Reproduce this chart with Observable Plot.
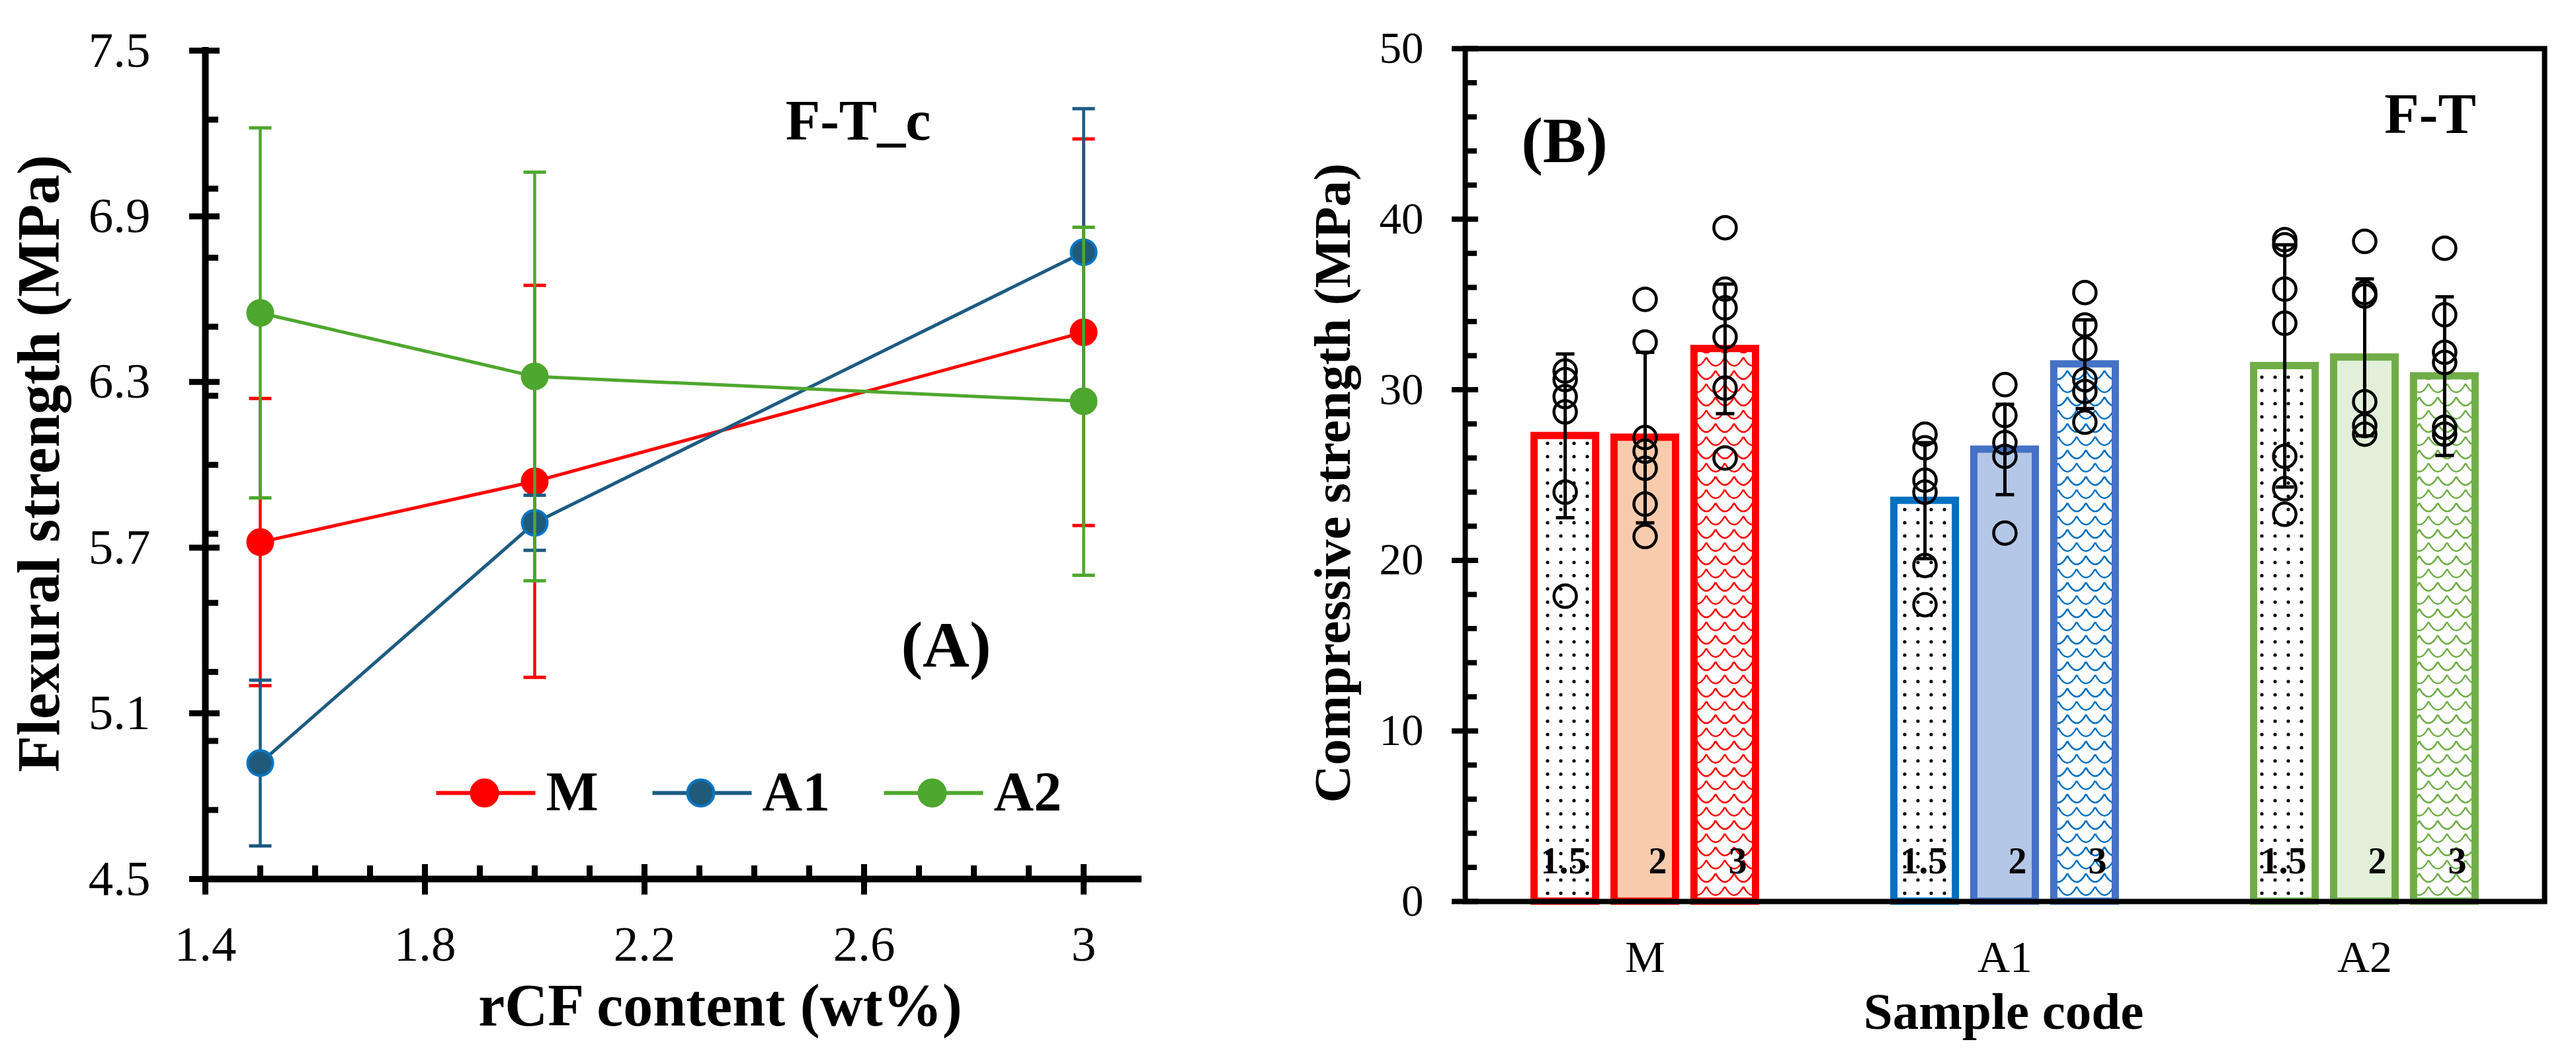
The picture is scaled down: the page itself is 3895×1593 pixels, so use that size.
<!DOCTYPE html>
<html>
<head>
<meta charset="utf-8">
<script src="https://cdn.jsdelivr.net/npm/d3@7"></script>
<script src="https://cdn.jsdelivr.net/npm/@observablehq/plot@0.6"></script>
<style>
  body { margin: 0; background: white; }
  #wrap { display: flex; width: 3895px; height: 1593px; }
  #wrap svg { flex: none; max-width: none; }
</style>
</head>
<body>
<div id="wrap"></div>
<script>
// (A) flexural strength against rCF content
const rcf = [1.5, 2, 3];
const seriesA = ["M", "A1", "A2"];
const flexM = [5.72, 5.94, 6.48];
const flexA1 = [4.92, 5.79, 6.77];
const flexA2 = [6.55, 6.32, 6.23];
const sdFlexM = [0.52, 0.71, 0.70];
const sdFlexA1 = [0.30, 0.10, 0.52];
const sdFlexA2 = [0.67, 0.74, 0.63];
const xTicksA = [1.4, 1.8, 2.2, 2.6, 3];
const xMinorA = [1.5, 1.6, 1.7, 1.9, 2.0, 2.1, 2.3, 2.4, 2.5, 2.7, 2.8, 2.9];
const yTicksA = [4.5, 5.1, 5.7, 6.3, 6.9, 7.5];
const yMinorA = [4.75, 5.0, 5.25, 5.5, 5.75, 6.0, 6.25, 6.5, 6.75, 7.0, 7.25];

// (B) compressive strength per sample code and rCF content
const samples = ["M", "A1", "A2"];
const contents = ["1.5", "2", "3"];
const compM = [27.3, 27.2, 32.4];
const compA1 = [23.5, 26.5, 31.5];
const compA2 = [31.4, 31.9, 30.8];
const sdCompM = [4.8, 5.0, 3.8];
const sdCompA1 = [3.4, 2.65, 2.6];
const sdCompA2 = [7.1, 4.6, 4.65];
const ptsM = [[31.1, 30.6, 29.6, 28.7, 24.0, 17.9], [35.3, 32.8, 27.2, 26.4, 25.4, 23.3, 21.4], [39.5, 35.9, 34.8, 33.1, 30.1, 26.0]];
const ptsA1 = [[27.4, 26.6, 24.7, 24.0, 19.7, 17.4], [30.3, 28.5, 26.9, 26.1, 21.6], [35.7, 33.8, 32.4, 30.6, 29.9, 28.1]];
const ptsA2 = [[38.8, 38.5, 35.9, 33.9, 26.1, 24.2, 22.7], [38.7, 35.7, 35.5, 29.3, 27.9, 27.4], [38.3, 34.4, 32.2, 31.6, 27.8, 27.4]];
const yTicksB = [0, 10, 20, 30, 40, 50];
const yMinorB = [2, 4, 6, 8, 12, 14, 16, 18, 22, 24, 26, 28, 32, 34, 36, 38, 42, 44, 46, 48];

const font = "'Times New Roman', 'Liberation Serif', serif";
const centred = {textAnchor: "middle", lineAnchor: "middle", fontWeight: "bold"};

// short line symbol for error bar caps and legend lines
const hLine = (a, b) => ({draw(ctx) { ctx.moveTo(a, 0); ctx.lineTo(b, 0); }});

// ---------- chart A ----------
const dimA = {width: 1950, height: 1593, marginLeft: 310, marginRight: 229, marginTop: 76, marginBottom: 265};
const xDomA = [1.4, 3.1];
const yDomA = [4.5, 7.5];
// data units per pixel, so tick lengths can be given in pixels
const pxXA = (xDomA[1] - xDomA[0]) / (dimA.width - dimA.marginLeft - dimA.marginRight);
const pxYA = (yDomA[1] - yDomA[0]) / (dimA.height - dimA.marginTop - dimA.marginBottom);
const flexMeans = [flexM, flexA1, flexA2];
const flexSds = [sdFlexM, sdFlexA1, sdFlexA2];
const lookA = [
  {line: "#ff0000", fill: "#ff0000", edge: "#ff0000"},
  {line: "#1d5b82", fill: "#1f5b78", edge: "#0a74c4"},
  {line: "#4ea72e", fill: "#4ea72e", edge: "#4ea72e"}
];
const legendDx = [422, 749, 1099];

const marksA = [
  Plot.ruleY([yDomA[0]], {stroke: "black", strokeWidth: 10, strokeLinecap: "square"}),
  Plot.ruleX([xDomA[0]], {stroke: "black", strokeWidth: 10, strokeLinecap: "square"}),
  Plot.ruleY(yTicksA, {y: d => d, x1: () => xDomA[0] - 24 * pxXA, x2: () => xDomA[0] + 22 * pxXA, stroke: "black", strokeWidth: 9}),
  Plot.ruleY(yMinorA, {y: d => d, x1: () => xDomA[0], x2: () => xDomA[0] + 20 * pxXA, stroke: "black", strokeWidth: 9}),
  Plot.ruleX(xTicksA, {x: d => d, y1: () => yDomA[0] - 24 * pxYA, y2: () => yDomA[0] + 22 * pxYA, stroke: "black", strokeWidth: 9}),
  Plot.ruleX(xMinorA, {x: d => d, y1: () => yDomA[0], y2: () => yDomA[0] + 20 * pxYA, stroke: "black", strokeWidth: 9}),
  Plot.axisY(yTicksA, {tickSize: 0, tickPadding: 83, fontSize: 75, label: null, tickFormat: d => d.toFixed(1)}),
  Plot.axisX(xTicksA, {tickSize: 0, tickPadding: 70, fontSize: 75, label: null, tickFormat: d => String(d)})
];

seriesA.forEach((name, i) => {
  const rows = rcf.map((x, j) => ({x, mean: flexMeans[i][j], sd: flexSds[i][j]}));
  const c = lookA[i];
  marksA.push(
    Plot.ruleX(rows, {x: "x", y1: d => d.mean - d.sd, y2: d => d.mean + d.sd, stroke: c.line, strokeWidth: 4.5}),
    Plot.dot(rows, {x: "x", y: d => d.mean + d.sd, symbol: hLine(-17, 17), r: 1, fill: "none", stroke: c.line, strokeWidth: 5}),
    Plot.dot(rows, {x: "x", y: d => d.mean - d.sd, symbol: hLine(-17, 17), r: 1, fill: "none", stroke: c.line, strokeWidth: 5}),
    Plot.line(rows, {x: "x", y: "mean", stroke: c.line, strokeWidth: 5}),
    Plot.dot(rows, {x: "x", y: "mean", r: 19, fill: c.fill, stroke: c.edge, strokeWidth: 4}),
    // legend entry
    Plot.dot([name], {frameAnchor: "top-left", dx: legendDx[i], dy: 1122, symbol: hLine(-73, 77), r: 1, fill: "none", stroke: c.line, strokeWidth: 6}),
    Plot.dot([name], {frameAnchor: "top-left", dx: legendDx[i], dy: 1122, r: 20, fill: c.fill, stroke: c.edge, strokeWidth: 4}),
    Plot.text([name], {frameAnchor: "top-left", dx: legendDx[i] + 93, dy: 1122, ...centred, textAnchor: "start", fontSize: 84})
  );
});

marksA.push(
  Plot.text(["F-T_c"], {frameAnchor: "top-left", dx: 987, dy: 107, ...centred, fontSize: 86}),
  Plot.text(["(A)"], {frameAnchor: "top-left", dx: 1120, dy: 899, ...centred, fontSize: 98}),
  Plot.text(["Flexural strength (MPa)"], {frameAnchor: "left", dx: -250, dy: -2, rotate: -90, ...centred, fontSize: 90}),
  Plot.text(["rCF content (wt%)"], {frameAnchor: "bottom", dx: 73, dy: 193, ...centred, fontSize: 90})
);

const chartA = Plot.plot({
  ...dimA,
  x: {domain: xDomA, label: null},
  y: {domain: yDomA, label: null},
  style: {fontFamily: font, background: "white"},
  marks: marksA
});

// ---------- chart B ----------
const dimB = {width: 1945, height: 1593, marginLeft: 265, marginRight: 48, marginTop: 73, marginBottom: 231};
const xDomB = [-2.25, 11.25];
const pxXB = (xDomB[1] - xDomB[0]) / (dimB.width - dimB.marginLeft - dimB.marginRight);
const compMeans = [compM, compA1, compA2];
const compSds = [sdCompM, sdCompA1, sdCompA2];
const compPts = [ptsM, ptsA1, ptsA2];
const barFills = [
  ["url(#dotFill)", "#f8cbad", "url(#scaleM)"],
  ["url(#dotFill)", "#b4c7e7", "url(#scaleA1)"],
  ["url(#dotFill)", "#e2f0d9", "url(#scaleA2)"]
];
const barStrokes = [
  ["#ff0000", "#ff0000", "#ff0000"],
  ["#0070c0", "#4472c4", "#4472c4"],
  ["#70ad47", "#70ad47", "#70ad47"]
];
const groupGap = 4.5;

const bars = samples.flatMap((s, i) => contents.map((c, j) => ({
  sample: s, content: c, pos: i * groupGap + j - 1,
  mean: compMeans[i][j], sd: compSds[i][j],
  fill: barFills[i][j], stroke: barStrokes[i][j], pts: compPts[i][j]
})));
const points = bars.flatMap(b => b.pts.map(v => ({pos: b.pos, v})));
const sampleAt = new Map(samples.map((s, i) => [i * groupGap, s]));

const chartB = Plot.plot({
  ...dimB,
  x: {domain: xDomB, label: null},
  y: {domain: [0, 50], label: null},
  color: {type: "identity"},
  style: {fontFamily: font, background: "white"},
  marks: [
    Plot.rect(bars, {x1: d => d.pos - 0.385, x2: d => d.pos + 0.385, y1: d => 0, y2: "mean", fill: "fill", stroke: "stroke", strokeWidth: 11}),
    Plot.text(bars, {x: "pos", frameAnchor: "bottom", dx: 33, dy: -60, text: "content", ...centred, textAnchor: "end", fontSize: 56}),
    Plot.ruleX(bars, {x: "pos", y1: d => d.mean - d.sd, y2: d => d.mean + d.sd, stroke: "black", strokeWidth: 5}),
    Plot.dot(bars, {x: "pos", y: d => d.mean + d.sd, symbol: hLine(-14, 14), r: 1, fill: "none", stroke: "black", strokeWidth: 5}),
    Plot.dot(bars, {x: "pos", y: d => d.mean - d.sd, symbol: hLine(-14, 14), r: 1, fill: "none", stroke: "black", strokeWidth: 5}),
    Plot.dot(points, {x: "pos", y: "v", r: 17, fill: "none", stroke: "black", strokeWidth: 4.5}),
    Plot.frame({stroke: "black", strokeWidth: 8}),
    Plot.ruleY(yTicksB, {y: d => d, x1: () => xDomB[0] - 20 * pxXB, x2: () => xDomB[0] + 20 * pxXB, stroke: "black", strokeWidth: 8}),
    Plot.ruleY(yMinorB, {y: d => d, x1: () => xDomB[0], x2: () => xDomB[0] + 18 * pxXB, stroke: "black", strokeWidth: 8}),
    Plot.axisY(yTicksB, {tickSize: 0, tickPadding: 63, fontSize: 67, label: null}),
    Plot.axisX([...sampleAt.keys()], {tickSize: 0, tickPadding: 58, fontSize: 68, label: null, tickFormat: d => sampleAt.get(d)}),
    Plot.text(["(B)"], {frameAnchor: "top-left", dx: 150, dy: 140, ...centred, fontSize: 98}),
    Plot.text(["F-T"], {frameAnchor: "top-left", dx: 1459, dy: 100, ...centred, fontSize: 86}),
    Plot.text(["Compressive strength (MPa)"], {frameAnchor: "left", dx: -200, dy: 12, rotate: -90, ...centred, fontSize: 79}),
    Plot.text(["Sample code"], {frameAnchor: "bottom", dx: -2, dy: 167, ...centred, fontSize: 79})
  ]
});

// fill patterns for the bars
const defs = d3.select(chartB).insert("defs", ":first-child");
const dots = defs.append("pattern").attr("id", "dotFill")
  .attr("patternUnits", "userSpaceOnUse").attr("width", 20).attr("height", 20);
dots.append("rect").attr("width", 20).attr("height", 20).attr("fill", "white");
dots.append("circle").attr("cx", 10).attr("cy", 10).attr("r", 2.6).attr("fill", "black");

[["scaleM", "#ff0000"], ["scaleA1", "#0070c0"], ["scaleA2", "#70ad47"]].forEach(([id, col]) => {
  const p = defs.append("pattern").attr("id", id)
    .attr("patternUnits", "userSpaceOnUse").attr("width", 28).attr("height", 40);
  p.append("rect").attr("width", 28).attr("height", 40).attr("fill", "white");
  p.append("path")
    .attr("d", "M0,0 Q14,26 28,0 M-14,20 Q0,46 14,20 M14,20 Q28,46 42,20 M-14,-20 Q0,6 14,-20 M14,-20 Q28,6 42,-20 M0,40 Q14,66 28,40")
    .attr("fill", "none").attr("stroke", col).attr("stroke-width", 2.6);
});

d3.select("#wrap").append(() => chartA);
d3.select("#wrap").append(() => chartB);
</script>
</body>
</html>
